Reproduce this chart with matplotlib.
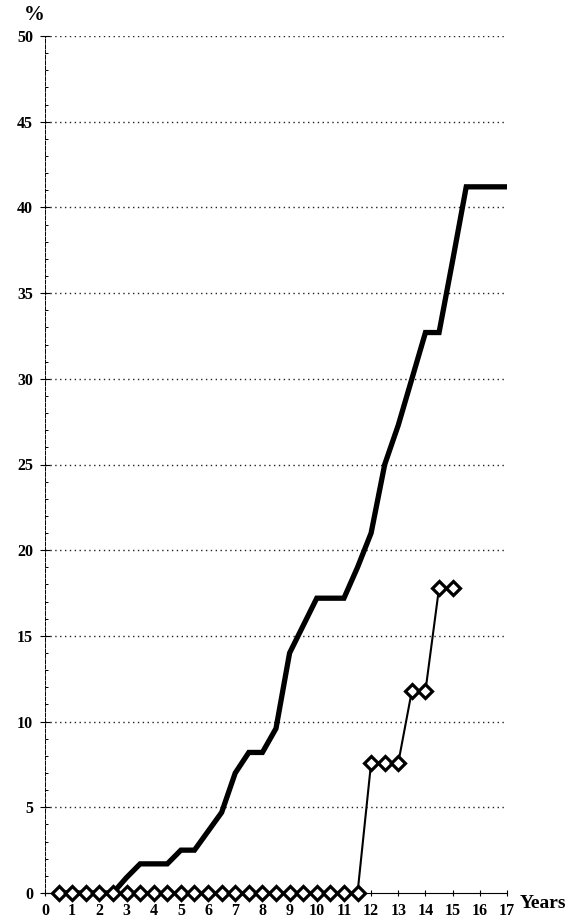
import matplotlib.pyplot as plt
from matplotlib.ticker import MultipleLocator

# ===== data =====
trend_years = [0.5, 1.0, 1.5, 2.0, 2.5, 3.0, 3.5, 4.0, 4.5, 5.0, 5.5, 6.0,
               6.5, 7.0, 7.5, 8.0, 8.5, 9.0, 9.5, 10.0, 10.5, 11.0, 11.5,
               12.0, 12.5, 13.0, 13.5, 14.0, 14.5, 15.0, 15.5, 16.0, 16.5, 17.0]
trend_pct = [0, 0, 0, 0, 0, 0.9, 1.7, 1.7, 1.7, 2.5, 2.5, 3.6,
             4.7, 7.0, 8.2, 8.2, 9.6, 14.0, 15.6, 17.2, 17.2, 17.2, 19.0,
             21.0, 25.0, 27.3, 30.0, 32.7, 32.7, 36.9, 41.2, 41.2, 41.2, 41.2]

diamond_years = [0.5, 1.0, 1.5, 2.0, 2.5, 3.0, 3.5, 4.0, 4.5, 5.0, 5.5, 6.0,
                 6.5, 7.0, 7.5, 8.0, 8.5, 9.0, 9.5, 10.0, 10.5, 11.0, 11.5,
                 12.0, 12.5, 13.0, 13.5, 14.0, 14.5, 15.0]
diamond_pct = [0, 0, 0, 0, 0, 0, 0, 0, 0, 0, 0, 0,
               0, 0, 0, 0, 0, 0, 0, 0, 0, 0, 0,
               7.6, 7.6, 7.6, 11.8, 11.8, 17.8, 17.8]

x_ticks = list(range(0, 18))
y_ticks = list(range(0, 51, 5))
# =======================================

plt.rcParams["font.family"] = ["Liberation Serif", "DejaVu Serif"]
plt.rcParams["font.weight"] = "bold"

W, H = 577, 923
fig = plt.figure(figsize=(W / 100, H / 100), dpi=100)
ax = fig.add_axes([45 / W, 30 / H, 462 / W, 857 / H])

# dotted horizontal grid
for y in y_ticks[1:]:
    ax.axhline(y, color="#222222", linestyle=(0, (1, 2.5)), linewidth=1.0, zorder=1)

ax.plot(trend_years, trend_pct, color="black", linewidth=3.8,
        solid_joinstyle="miter", solid_capstyle="butt", zorder=3, clip_on=False)
ax.plot(diamond_years, diamond_pct, color="black", linewidth=1.5,
        marker="D", markersize=7.2, markerfacecolor="white",
        markeredgecolor="black", markeredgewidth=2.3, zorder=4, clip_on=False)

ax.set_xlim(0, 17)
ax.set_ylim(0, 50)
ax.set_xticks(x_ticks)
ax.set_yticks(y_ticks)
ax.yaxis.set_minor_locator(MultipleLocator(1))

for s in ["top", "right"]:
    ax.spines[s].set_visible(False)
ax.spines["left"].set_linewidth(0.7)
ax.spines["left"].set_linestyle((0, (4, 1.5)))
ax.spines["bottom"].set_linewidth(0.8)

ax.tick_params(axis="x", which="major", direction="inout", length=5,
               width=0.8, pad=5, labelsize=11.5)
ax.tick_params(axis="y", which="major", direction="inout", length=7,
               width=0.8, pad=5, labelsize=11.5)
ax.tick_params(axis="y", which="minor", direction="in", length=2.5, width=0.7)
for lab in ax.get_xticklabels() + ax.get_yticklabels():
    lab.set_fontweight("bold")

fig.text(34 / W, 1 - 15 / H, "%", ha="center", va="center",
         fontsize=15, fontweight="bold")
fig.text(520 / W, 1 - 904 / H, "Years", ha="left", va="center",
         fontsize=14, fontweight="bold")

fig.savefig("out.png", dpi=100)
